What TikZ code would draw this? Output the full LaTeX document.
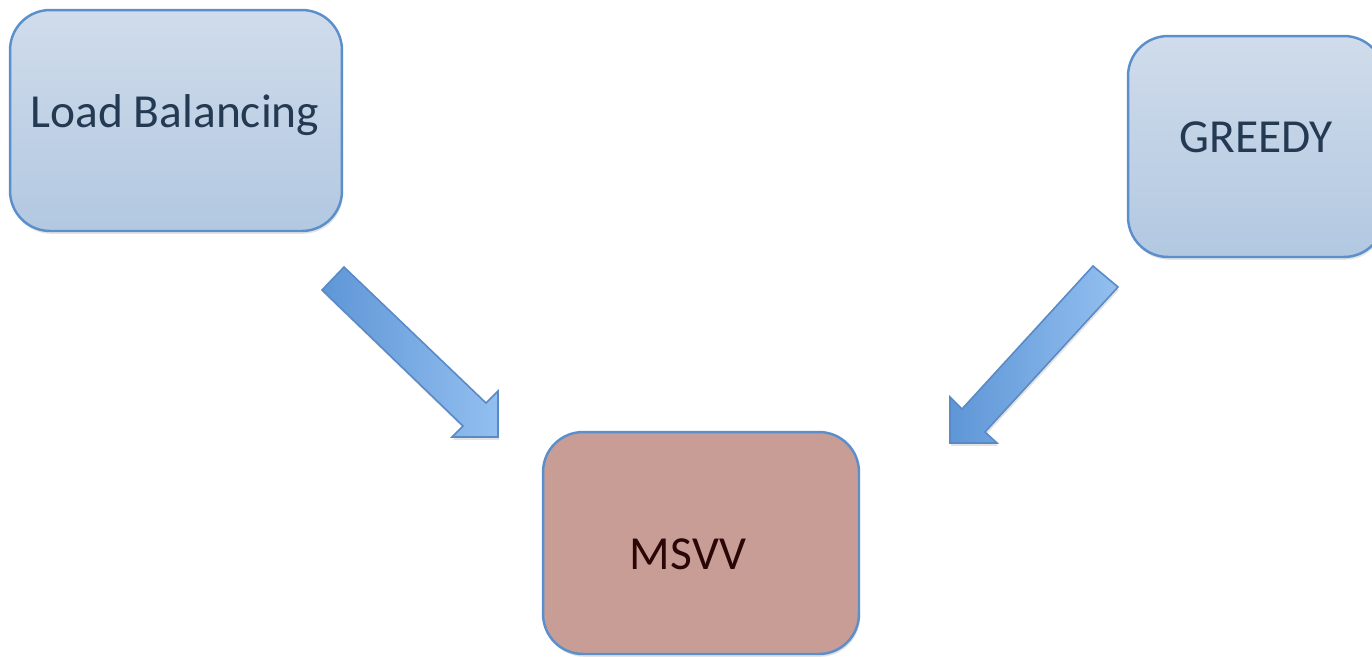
\documentclass[tikz,border=0pt]{standalone}
\usepackage{fontspec}
\setmainfont{Carlito}
\usetikzlibrary{shadows,calc}

\definecolor{boxline}{HTML}{5B8FCB}
\definecolor{boxtop}{HTML}{D0DCEB}
\definecolor{boxbot}{HTML}{B2C8E1}
\definecolor{resfill}{HTML}{C79D96}
\definecolor{bluetext}{HTML}{243A52}
\definecolor{redtext}{HTML}{2B0606}
\definecolor{arrowline}{HTML}{5A8AC6}
\definecolor{arrowdark}{HTML}{5E96D6}
\definecolor{arrowlight}{HTML}{93BFF0}

\tikzset{
  softshadow/.style={drop shadow={opacity=0.22, shadow xshift=0.6pt, shadow yshift=-1.6pt}},
  algobox/.style={draw=boxline, line width=1.4pt, rounded corners=0.8cm,
    top color=boxtop, bottom color=boxbot, softshadow, inner sep=0pt},
  resultbox/.style={draw=boxline, line width=1.4pt, rounded corners=0.8cm,
    fill=resfill, softshadow, inner sep=0pt},
  boxlabel/.style={font=\fontsize{27}{32}\selectfont, anchor=base, inner sep=0pt},
  blockarrow/.style={draw=arrowline, line width=0.9pt, line join=miter, softshadow,
    left color=arrowdark, right color=arrowlight},
}

\begin{document}
\begin{tikzpicture}[x=0.02cm, y=-0.02cm]
  \clip (0,0) rectangle (1372,656);
  \useasboundingbox (0,0) rectangle (1372,656);

  % source boxes
  \node[algobox, minimum width=6.64cm, minimum height=4.42cm] (lb) at (176,120.5) {};
  \node[boxlabel, text=bluetext] (lbtext) at (175,127.5) {Load Balancing};

  \node[algobox, minimum width=5.12cm, minimum height=4.42cm] (greedy) at (1256,146.5) {};
  \node[boxlabel, text=bluetext] (greedytext) at (1256,152.5) {GREEDY};

  % combined result
  \node[resultbox, minimum width=6.32cm, minimum height=4.44cm] (msvv) at (701,543) {};
  \node[boxlabel, text=redtext] (msvvtext) at (688,569) {MSVV};

  % block arrow from Load Balancing towards MSVV
  \draw[blockarrow]
    (322,290) -- (344,267) -- (486,403) -- (498,391) -- (498,437)
    -- (452,437) -- (463,426) -- cycle;

  % block arrow from GREEDY towards MSVV
  \draw[blockarrow]
    (1093,266) -- (1118,287) -- (985,432) -- (997,443) -- (950,443)
    -- (950,397) -- (962,409) -- cycle;
\end{tikzpicture}
\end{document}
